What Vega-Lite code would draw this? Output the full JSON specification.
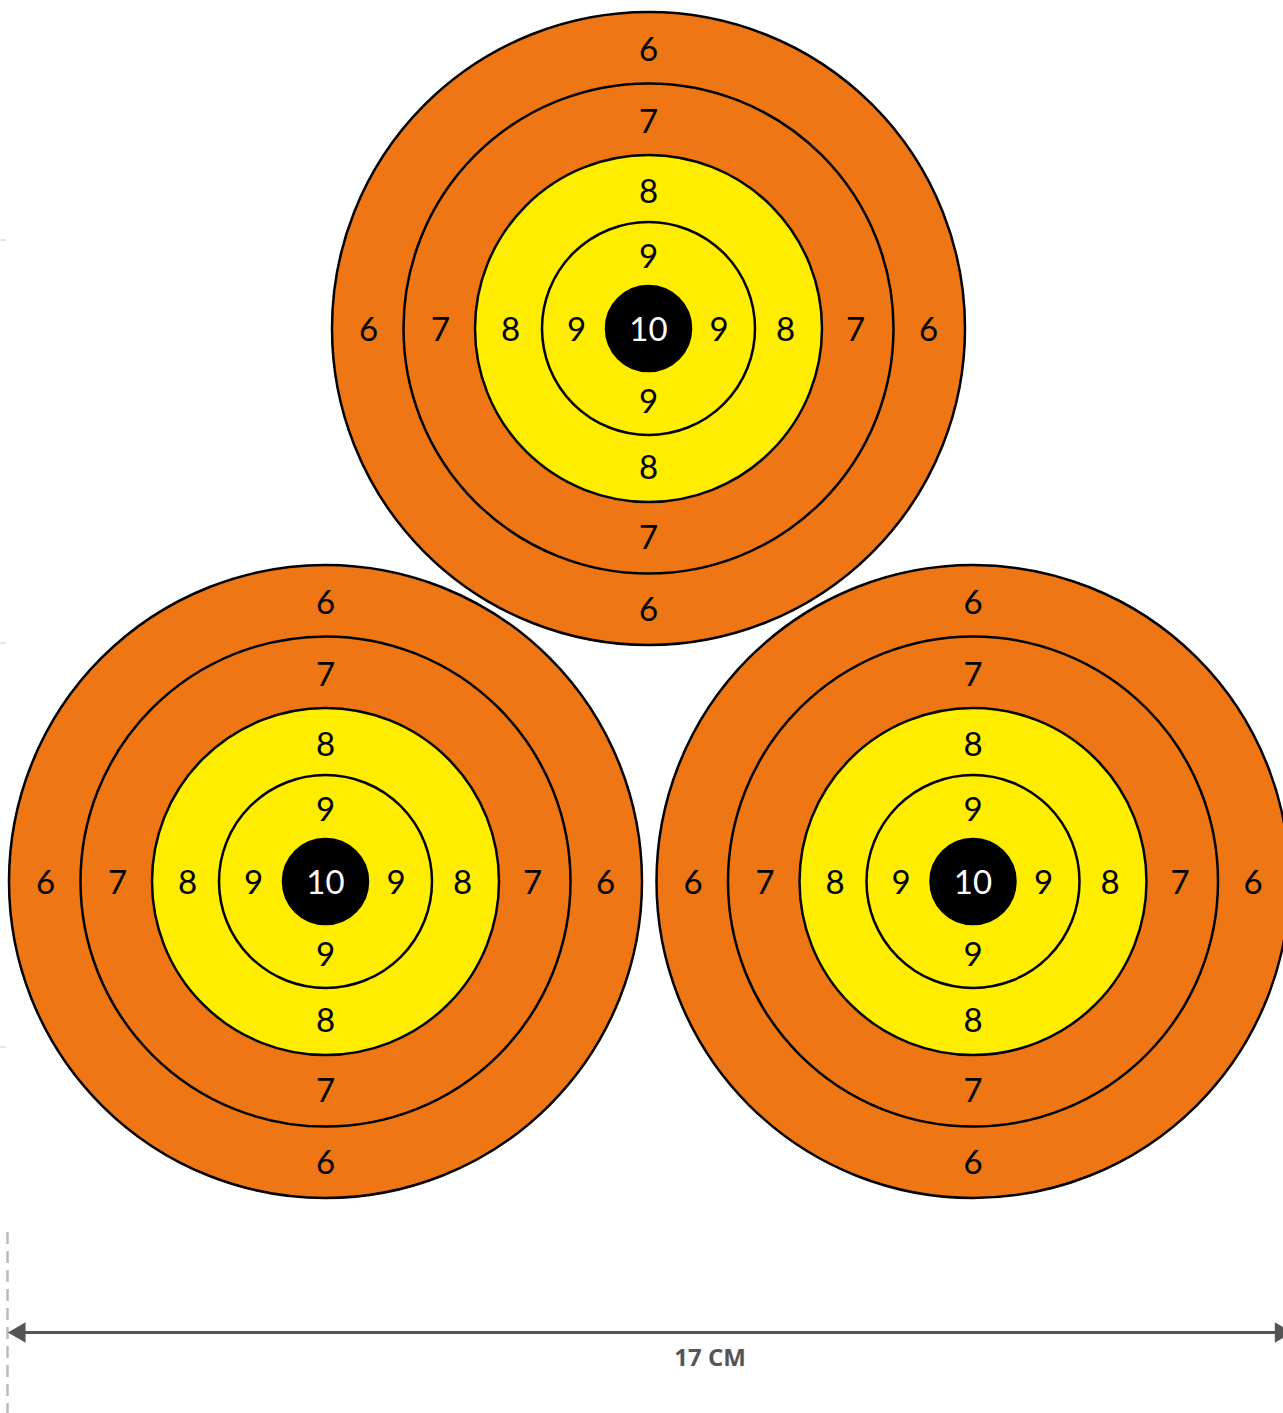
{
  "$schema": "https://vega.github.io/schema/vega-lite/v6.json",
  "width": 1283,
  "height": 1413,
  "padding": 0,
  "autosize": {"type": "none"},
  "background": "white",
  "config": {"view": {"stroke": null}},
  "datasets": {
    "rings": [
      {"t": "A", "x": 648.5, "y": 328.5, "ring": "6", "r": 316.5},
      {"t": "B", "x": 325.5, "y": 881.5, "ring": "6", "r": 316.5},
      {"t": "C", "x": 973, "y": 881.5, "ring": "6", "r": 316.5},
      {"t": "A", "x": 648.5, "y": 328.5, "ring": "7", "r": 245},
      {"t": "B", "x": 325.5, "y": 881.5, "ring": "7", "r": 245},
      {"t": "C", "x": 973, "y": 881.5, "ring": "7", "r": 245},
      {"t": "A", "x": 648.5, "y": 328.5, "ring": "8", "r": 173.5},
      {"t": "B", "x": 325.5, "y": 881.5, "ring": "8", "r": 173.5},
      {"t": "C", "x": 973, "y": 881.5, "ring": "8", "r": 173.5},
      {"t": "A", "x": 648.5, "y": 328.5, "ring": "9", "r": 106.5},
      {"t": "B", "x": 325.5, "y": 881.5, "ring": "9", "r": 106.5},
      {"t": "C", "x": 973, "y": 881.5, "ring": "9", "r": 106.5},
      {"t": "A", "x": 648.5, "y": 328.5, "ring": "10", "r": 42.5},
      {"t": "B", "x": 325.5, "y": 881.5, "ring": "10", "r": 42.5},
      {"t": "C", "x": 973, "y": 881.5, "ring": "10", "r": 42.5}
    ],
    "labels": [
      {"x": 648.5, "y": 48.5, "n": "6"}, {"x": 648.5, "y": 609, "n": "6"}, {"x": 368.5, "y": 328.5, "n": "6"}, {"x": 928.5, "y": 328.5, "n": "6"},
      {"x": 648.5, "y": 120.5, "n": "7"}, {"x": 648.5, "y": 536.5, "n": "7"}, {"x": 440.5, "y": 328.5, "n": "7"}, {"x": 855.5, "y": 328.5, "n": "7"},
      {"x": 648.5, "y": 190.5, "n": "8"}, {"x": 648.5, "y": 466.5, "n": "8"}, {"x": 510.5, "y": 328.5, "n": "8"}, {"x": 785.5, "y": 328.5, "n": "8"},
      {"x": 648.5, "y": 256, "n": "9"}, {"x": 648.5, "y": 400.5, "n": "9"}, {"x": 576.5, "y": 328.5, "n": "9"}, {"x": 719, "y": 328.5, "n": "9"},
      {"x": 648.5, "y": 328.5, "n": "10"},
      {"x": 325.5, "y": 601.5, "n": "6"}, {"x": 325.5, "y": 1162, "n": "6"}, {"x": 45.5, "y": 881.5, "n": "6"}, {"x": 605.5, "y": 881.5, "n": "6"},
      {"x": 325.5, "y": 673.5, "n": "7"}, {"x": 325.5, "y": 1089.5, "n": "7"}, {"x": 117.5, "y": 881.5, "n": "7"}, {"x": 532.5, "y": 881.5, "n": "7"},
      {"x": 325.5, "y": 743.5, "n": "8"}, {"x": 325.5, "y": 1019.5, "n": "8"}, {"x": 187.5, "y": 881.5, "n": "8"}, {"x": 462.5, "y": 881.5, "n": "8"},
      {"x": 325.5, "y": 809, "n": "9"}, {"x": 325.5, "y": 953.5, "n": "9"}, {"x": 253.5, "y": 881.5, "n": "9"}, {"x": 396, "y": 881.5, "n": "9"},
      {"x": 325.5, "y": 881.5, "n": "10"},
      {"x": 973, "y": 601.5, "n": "6"}, {"x": 973, "y": 1162, "n": "6"}, {"x": 693, "y": 881.5, "n": "6"}, {"x": 1253, "y": 881.5, "n": "6"},
      {"x": 973, "y": 673.5, "n": "7"}, {"x": 973, "y": 1089.5, "n": "7"}, {"x": 765, "y": 881.5, "n": "7"}, {"x": 1180, "y": 881.5, "n": "7"},
      {"x": 973, "y": 743.5, "n": "8"}, {"x": 973, "y": 1019.5, "n": "8"}, {"x": 835, "y": 881.5, "n": "8"}, {"x": 1110, "y": 881.5, "n": "8"},
      {"x": 973, "y": 809, "n": "9"}, {"x": 973, "y": 953.5, "n": "9"}, {"x": 901, "y": 881.5, "n": "9"}, {"x": 1043.5, "y": 881.5, "n": "9"},
      {"x": 973, "y": 881.5, "n": "10"}
    ],
    "ticks": [
      {"x": 0, "x2": 6, "y": 240},
      {"x": 0, "x2": 6, "y": 643},
      {"x": 0, "x2": 6, "y": 1047}
    ],
    "dim": [{"x": 14, "x2": 1278, "y": 1332.5}],
    "dash": [{"x": 7.5, "y": 1232, "y2": 1413}],
    "heads": [
      {"x": 16.7, "y": 1332.5, "dir": "left"},
      {"x": 1283.7, "y": 1332.5, "dir": "right"}
    ],
    "caption": [{"x": 710, "y": 1358, "text": "17 CM"}]
  },
  "layer": [
    {
      "data": {"name": "ticks"},
      "mark": {"type": "rule", "color": "#d0d0d0", "strokeWidth": 1},
      "encoding": {
        "x": {"field": "x", "type": "quantitative", "scale": {"domain": [0, 1283], "nice": false, "zero": false}, "axis": null},
        "x2": {"field": "x2"},
        "y": {"field": "y", "type": "quantitative", "scale": {"domain": [0, 1413], "nice": false, "zero": false, "reverse": true}, "axis": null}
      }
    },
    {
      "data": {"name": "rings"},
      "mark": {"type": "point", "shape": "circle", "filled": true, "stroke": "black", "strokeWidth": 2.5, "opacity": 1, "strokeOpacity": 1, "fillOpacity": 1},
      "encoding": {
        "x": {"field": "x", "type": "quantitative"},
        "y": {"field": "y", "type": "quantitative"},
        "size": {"field": "r", "type": "quantitative", "scale": {"type": "pow", "exponent": 2, "domain": [0, 400], "range": [0, 640000]}, "legend": null},
        "color": {"field": "ring", "type": "nominal", "scale": {"domain": ["6", "7", "8", "9", "10"], "range": ["#EE7614", "#EE7614", "#FFED00", "#FFED00", "#000000"]}, "legend": null},
        "order": {"field": "r", "type": "quantitative", "sort": "descending"}
      }
    },
    {
      "data": {"name": "labels"},
      "mark": {"type": "text", "font": "Lato", "fontSize": 33, "align": "center", "baseline": "middle", "dy": 2},
      "encoding": {
        "x": {"field": "x", "type": "quantitative"},
        "y": {"field": "y", "type": "quantitative"},
        "text": {"field": "n"},
        "color": {"condition": {"test": "datum.n == '10'", "value": "white"}, "value": "black"}
      }
    },
    {
      "data": {"name": "dash"},
      "mark": {"type": "rule", "color": "#bbbbbb", "strokeWidth": 2.5, "strokeDash": [12, 7]},
      "encoding": {
        "x": {"field": "x", "type": "quantitative"},
        "y": {"field": "y", "type": "quantitative"},
        "y2": {"field": "y2"}
      }
    },
    {
      "data": {"name": "dim"},
      "mark": {"type": "rule", "color": "#555555", "strokeWidth": 3},
      "encoding": {
        "x": {"field": "x", "type": "quantitative"},
        "x2": {"field": "x2"},
        "y": {"field": "y", "type": "quantitative"}
      }
    },
    {
      "data": {"name": "heads"},
      "mark": {"type": "point", "filled": true, "color": "#555555", "size": 420, "opacity": 1},
      "encoding": {
        "x": {"field": "x", "type": "quantitative"},
        "y": {"field": "y", "type": "quantitative"},
        "shape": {"field": "dir", "type": "nominal", "scale": {"domain": ["left", "right"], "range": ["triangle-left", "triangle-right"]}, "legend": null}
      }
    },
    {
      "data": {"name": "caption"},
      "mark": {"type": "text", "font": "Open Sans", "fontSize": 24, "fontWeight": "bold", "color": "#555555", "align": "center", "baseline": "middle", "dy": 1},
      "encoding": {
        "x": {"field": "x", "type": "quantitative"},
        "y": {"field": "y", "type": "quantitative"},
        "text": {"field": "text"}
      }
    }
  ]
}
